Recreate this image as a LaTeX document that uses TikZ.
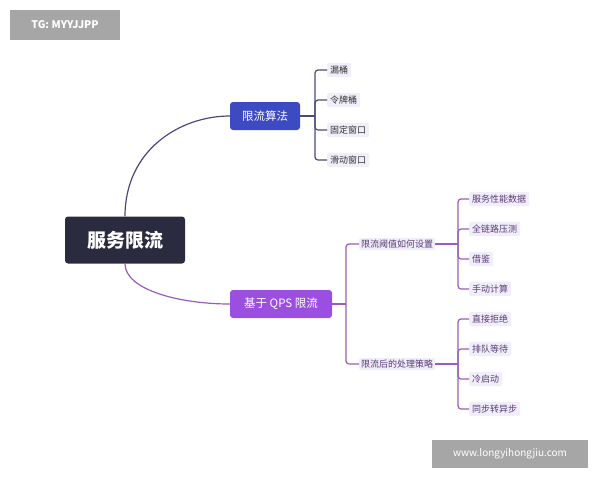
\documentclass[tikz,border=0pt]{standalone}
\usepackage{fontspec}
\setmainfont{Noto Sans CJK SC}
\usetikzlibrary{positioning}
\definecolor{rootbg}{HTML}{2B2B40}
\definecolor{algobg}{HTML}{3D4BC2}
\definecolor{qpsbg}{HTML}{9B4FE0}
\definecolor{leafbg}{HTML}{F0EEF8}
\definecolor{algoline}{HTML}{4A4A7A}
\definecolor{qpsline}{HTML}{9A5CB8}
\definecolor{qpstext}{HTML}{5A3A78}
\tikzset{
    rootsty/.style={fill=rootbg,text=white,rounded corners=3pt,minimum width=120pt,minimum height=47pt,font=\fontsize{19}{21}\selectfont\bfseries},
    algosty/.style={fill=algobg,text=white,rounded corners=3pt,minimum width=70pt,minimum height=28pt,font=\fontsize{11.5}{13}\selectfont},
    qpssty/.style={fill=qpsbg,text=white,rounded corners=3pt,minimum width=102pt,minimum height=28pt,font=\fontsize{11.5}{13}\selectfont},
    midsty/.style={fill=leafbg,text=qpstext,rounded corners=2pt,inner sep=2pt,font=\fontsize{9}{11}\selectfont},
    leafsty/.style={fill=leafbg,text=black!80,rounded corners=2pt,inner sep=3pt,font=\fontsize{9}{11}\selectfont,anchor=west},
    marksty/.style={fill=black!35,text=white,inner sep=0pt,font=\fontsize{10.5}{12}\selectfont\bfseries},
    algolink/.style={draw=algoline,line width=1.2pt,rounded corners=3pt},
    qpslink/.style={draw=qpsline,line width=1.2pt,rounded corners=3pt},
}
\begin{document}
\begin{tikzpicture}[x=1pt,y=-1pt]
\useasboundingbox (0,0) rectangle (600,480);

\node (tg) [marksty,minimum width=110pt,minimum height=30pt] at (65,25) {TG: MYYJJPP};
\node (web) [marksty,font=\fontsize{10}{12}\selectfont,minimum width=156pt,minimum height=28pt] at (510,454) {www.longyihongjiu.com};

\node (root) [rootsty] at (125,240) {服务限流};
\node (algo) [algosty] at (265,116) {限流算法};
\node (qps) [qpssty] at (281,304) {基于 QPS 限流};

\draw [algolink] (root.north) .. controls (125,150) and (180,116) .. (algo.west);
\draw [qpslink] (root.south) .. controls (125,290) and (180,304) .. (qps.west);

% algorithms
\coordinate (abr) at (315,116);
\draw [algolink] (algo.east) -- (abr);
\foreach \name/\txt/\y in {leak/漏桶/70, token/令牌桶/100, fixed/固定窗口/130, slide/滑动窗口/160}{
    \node (\name) [leafsty] at (327,\y) {\txt};
    \draw [algolink] (abr) |- (\name.west);
}

% qps branches
\coordinate (qbr) at (346,304);
\draw [qpslink] (qps.east) -- (qbr);
\node (thresh) [midsty,anchor=west] at (359,244) {限流阈值如何设置};
\node (after) [midsty,anchor=west] at (359,364) {限流后的处理策略};
\draw [qpslink] (qbr) |- (thresh.west);
\draw [qpslink] (qbr) |- (after.west);

\coordinate (tbr) at (458,244);
\draw [qpslink] (thresh.east) -- (tbr);
\foreach \name/\txt/\y in {perf/服务性能数据/199, chain/全链路压测/229, refer/借鉴/259, manual/手动计算/289}{
    \node (\name) [leafsty,text=qpstext] at (469,\y) {\txt};
    \draw [qpslink] (tbr) |- (\name.west);
}
\coordinate (pbr) at (458,364);
\draw [qpslink] (after.east) -- (pbr);
\foreach \name/\txt/\y in {reject/直接拒绝/319, queue/排队等待/349, cold/冷启动/379, async/同步转异步/409}{
    \node (\name) [leafsty,text=qpstext] at (469,\y) {\txt};
    \draw [qpslink] (pbr) |- (\name.west);
}
\end{tikzpicture}
\end{document}
